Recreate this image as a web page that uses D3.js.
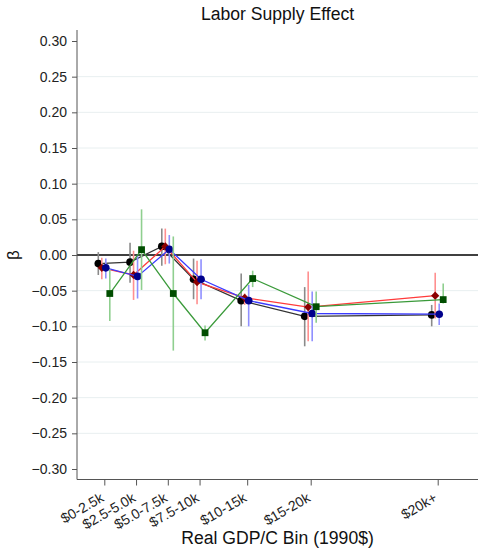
<!DOCTYPE html>
<html><head><meta charset="utf-8">
<script src="https://cdn.jsdelivr.net/npm/d3@7"></script>
<style>body{margin:0;background:#fff}svg{display:block;font-family:"Liberation Sans",Arial,sans-serif}</style>
</head><body><svg id="c" width="479" height="553"></svg>
<script>
const categories = ["$0-2.5k","$2.5-5.0k","$5.0-7.5k","$7.5-10k","$10-15k","$15-20k","$20k+"];
const binMid = [1.25,3.75,6.25,8.75,12.5,17.5,27.5];
const yTicks = [0.30,0.25,0.20,0.15,0.10,0.05,0.00,-0.05,-0.10,-0.15,-0.20,-0.25,-0.30];

const blackVal = [-0.012,-0.010,0.012,-0.034,-0.064,-0.086,-0.084];
const blackLo  = [-0.028,-0.039,-0.015,-0.062,-0.100,-0.128,-0.100];
const blackHi  = [0.004,0.017,0.037,-0.005,-0.026,-0.045,-0.070];
const redVal   = [-0.018,-0.028,0.012,-0.038,-0.060,-0.073,-0.057];
const redLo    = [-0.034,-0.063,-0.013,-0.069,-0.070,-0.121,-0.089];
const redHi    = [-0.004,0.006,0.037,-0.008,-0.054,-0.023,-0.025];
const blueVal  = [-0.018,-0.030,0.008,-0.034,-0.064,-0.082,-0.083];
const blueLo   = [-0.033,-0.061,-0.012,-0.062,-0.100,-0.121,-0.098];
const blueHi   = [-0.005,-0.001,0.028,-0.006,-0.042,-0.051,-0.068];
const greenVal = [-0.054,0.0075,-0.054,-0.109,-0.033,-0.0725,-0.0625];
const greenLo  = [-0.0925,-0.049,-0.134,-0.120,-0.045,-0.095,-0.068];
const greenHi  = [-0.020,0.064,0.026,-0.099,-0.022,-0.051,-0.040];

const squareDiamond = {draw(ctx,size){const r=Math.sqrt(size/2);ctx.moveTo(0,-r);ctx.lineTo(r,0);ctx.lineTo(0,r);ctx.lineTo(-r,0);ctx.closePath();}};

const series = [
  {v:blackVal, lo:blackLo, hi:blackHi, line:"#333", ci:"#8a8a8a", fill:"#000", shape:d3.symbolCircle, size:46, dx:-6},
  {v:redVal, lo:redLo, hi:redHi, line:"#ff3b3b", ci:"#ff8f8f", fill:"#8b0000", shape:squareDiamond, size:34, dx:-2.5},
  {v:blueVal, lo:blueLo, hi:blueHi, line:"#3b3bff", ci:"#8f8fff", fill:"#00008b", shape:d3.symbolCircle, size:46, dx:1.5},
  {v:greenVal, lo:greenLo, hi:greenHi, line:"#3a9a3a", ci:"#8fcf8f", fill:"#004d00", shape:d3.symbolSquare, size:46, dx:5.5}
];

const svg = d3.select("#c");
const L = 77, R = 478, T = 30, B = 479.5;
const x = d3.scaleLinear().domain([1.25,27.5]).range([104.3,437.7]);
const y = d3.scaleLinear().domain([0.3,-0.3]).range([41,469]);

svg.append("g").selectAll("line").data(yTicks.filter(t=>Math.abs(t)>1e-9 && Math.abs(t)<0.29))
  .join("line").attr("x1",L).attr("x2",R).attr("y1",d=>y(d)).attr("y2",d=>y(d))
  .attr("stroke","#e8eff0").attr("stroke-width",1);
svg.append("line").attr("x1",L).attr("x2",R).attr("y1",y(0)).attr("y2",y(0)).attr("stroke","#000").attr("stroke-width",1.5);

const ya = svg.append("g").attr("transform",`translate(${L},0)`)
  .call(d3.axisLeft(y).tickValues(yTicks).tickFormat(d3.format(".2f")).tickSize(5).tickPadding(5));
ya.select(".domain").attr("d",`M0,${T}V${B}`);
const xa = svg.append("g").attr("transform",`translate(0,${B})`)
  .call(d3.axisBottom(x).tickValues(binMid).tickFormat((d,i)=>categories[i]).tickSize(6));
xa.select(".domain").attr("d",`M${L},0H${R}`);
[ya,xa].forEach(a=>{a.selectAll("path,line").attr("stroke","#555");a.selectAll("text").attr("fill","#222").style("font-size","14px").style("font-family","Liberation Sans, Arial, sans-serif");});
xa.selectAll("text").attr("text-anchor","end").attr("dy",null).attr("y",0)
  .attr("transform","translate(0,21) rotate(-30)");

series.forEach(s=>{
  const g = svg.append("g");
  g.selectAll("line.ci").data(binMid).join("line").attr("class","ci")
    .attr("x1",(d,i)=>x(d)+s.dx).attr("x2",(d,i)=>x(d)+s.dx)
    .attr("y1",(d,i)=>y(s.lo[i])).attr("y2",(d,i)=>y(s.hi[i]))
    .attr("stroke",s.ci).attr("stroke-width",1.6);
  g.append("path").datum(binMid)
    .attr("d",d3.line().x((d)=>x(d)+s.dx).y((d,i)=>y(s.v[i])))
    .attr("fill","none").attr("stroke",s.line).attr("stroke-width",1.3);
  g.selectAll("path.m").data(binMid).join("path").attr("class","m")
    .attr("transform",(d,i)=>`translate(${x(d)+s.dx},${y(s.v[i])})`)
    .attr("d",d3.symbol().type(s.shape).size(s.size)).attr("fill",s.fill);
});

svg.append("text").attr("x",(L+R)/2).attr("y",20).attr("text-anchor","middle")
  .style("font-size","17.6px").attr("fill","#111").text("Labor Supply Effect");
svg.append("text").attr("x",(L+R)/2).attr("y",544).attr("text-anchor","middle")
  .style("font-size","17.6px").attr("fill","#111").text("Real GDP/C Bin (1990$)");
svg.append("text").attr("transform",`translate(19,${y(0)}) rotate(-90)`).attr("text-anchor","middle")
  .style("font-size","17px").attr("fill","#111").text("β");
</script></body></html>
